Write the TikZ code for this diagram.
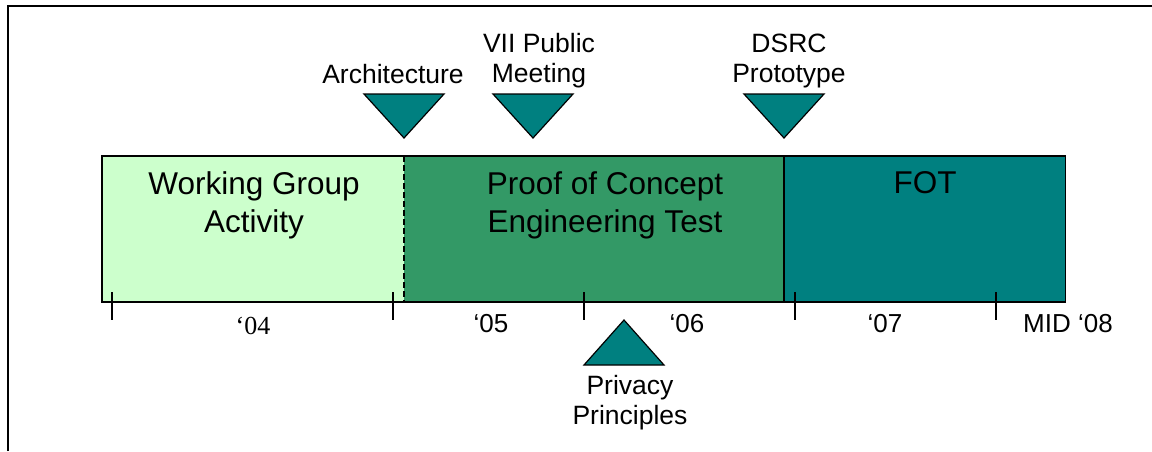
\documentclass[tikz,border=0pt]{standalone}
\usepackage{fontspec}
\setmainfont{Liberation Sans}
\newfontfamily\serifyear{Liberation Serif}

\definecolor{wgfill}{HTML}{CCFFCC}
\definecolor{pocfill}{HTML}{339966}
\definecolor{fotfill}{HTML}{008080}

\begin{document}
\begin{tikzpicture}[x=1pt, y=-1pt,
    phase/.style = {fill=#1, minimum height=146pt, inner sep=0pt, outer sep=0pt},
    phasetext/.style = {font=\fontsize{31.5}{38}\selectfont, align=center, inner sep=0pt, anchor=north},
    evt/.style = {font=\fontsize{26.5}{30}\selectfont, align=center, inner sep=0pt, anchor=north},
    yr/.style = {font=\fontsize{26}{28}\selectfont, inner sep=0pt, anchor=base},
    miletri/.style = {draw, line width=1.2pt, fill=fotfill, line join=miter},
    yrtick/.style = {line width=1.2pt}]
    \useasboundingbox (0,0) rectangle (1152,451);

    % open frame
    \draw[line width=1.5pt] (8,451) -- (8,6) -- (1152,6);

    % phases
    \node[phase=wgfill,  minimum width=302pt]   (wg)  at (253,229)    {};
    \node[phase=pocfill, minimum width=380pt]   (poc) at (594,229)    {};
    \node[phase=fotfill, minimum width=281.5pt] (fot) at (924.75,229) {};
    \draw[line width=1.3pt] (wg.north west) rectangle (fot.south east);
    \draw[line width=1.2pt, dash pattern=on 6pt off 3pt] (wg.north east) -- (wg.south east);
    \draw[line width=1.3pt] (poc.north east) -- (poc.south east);

    \node[phasetext] (wgtxt)  at (254,171) {Working Group\\Activity};
    \node[phasetext] (poctxt) at (605,171) {Proof of Concept\\Engineering Test};
    \node[phasetext] (fottxt) at (925,171) {FOT};

    % year ticks
    \foreach \x [count=\i] in {112,393,584,795,996}
        \draw[yrtick] (\x,292) coordinate (t\i) -- (\x,320);

    \node[yr, font=\serifyear\fontsize{26}{28}\selectfont] (y04) at (253,334) {‘04};
    \node[yr] (y05) at (491,332)  {‘05};
    \node[yr] (y06) at (687,332)  {‘06};
    \node[yr] (y07) at (885,332)  {‘07};
    \node[yr] (y08) at (1068,332) {MID ‘08};

    % milestones
    \foreach \name/\x in {arch/404, vii/533, dsrc/784} {
        \coordinate (\name) at (\x,138);
        \draw[miletri] (\name) -- ++(-40,-44) -- ++(80,0) -- cycle;
    }
    \coordinate (priv) at (624,320);
    \draw[miletri] (priv) -- ++(-40,45) -- ++(80,0) -- cycle;

    \node[evt] (archtxt) at (393,64)  {Architecture};
    \node[evt] (viitxt)  at (539,33)  {VII Public\\Meeting};
    \node[evt] (dsrctxt) at (789,34)  {DSRC\\Prototype};
    \node[evt] (privtxt) at (630,375) {Privacy\\Principles};
\end{tikzpicture}
\end{document}
